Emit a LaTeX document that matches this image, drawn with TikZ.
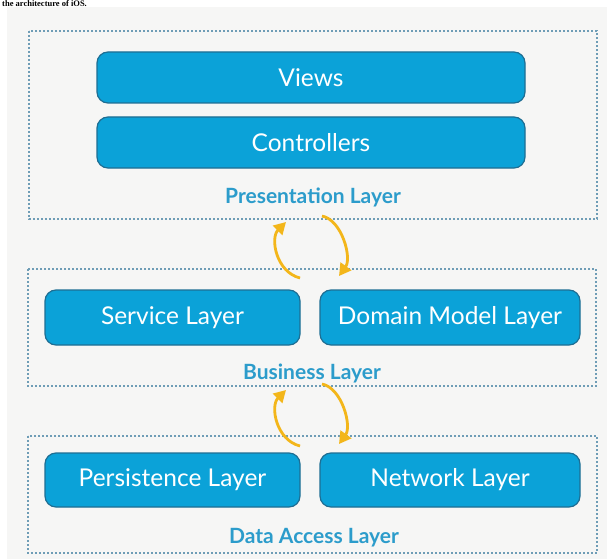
\documentclass[tikz,border=0pt]{standalone}
\usepackage{fontspec}
\setmainfont{Lato}
\newfontfamily\captionfont{Liberation Serif}
\usepackage{xcolor}
\usepackage{tikz}
\usetikzlibrary{arrows.meta,positioning,calc}

\definecolor{boxblue}{HTML}{0BA2D8}
\definecolor{boxedge}{HTML}{1E6E93}
\definecolor{labelblue}{HTML}{2C9CCB}
\definecolor{frameblue}{HTML}{6F9DB6}
\definecolor{cycyellow}{HTML}{F3B61A}
\definecolor{pagegray}{HTML}{F6F6F5}

\begin{document}
\begin{tikzpicture}[x=1pt, y=-1pt,
    part/.style={draw=boxedge, line width=1.2pt, fill=boxblue, rounded corners=11pt,
        text=white, font=\fontsize{24.5}{27}\selectfont, inner sep=0pt},
    tier/.style={draw=frameblue, line width=1.1pt, dash pattern=on 1.6pt off 2.4pt},
    tiername/.style={text=labelblue, font=\fontsize{21}{24}\selectfont\bfseries},
    cyc/.style={draw=cycyellow, line width=2.8pt, -{Triangle[length=12pt,width=13pt]}}]
    % page
    \useasboundingbox (0,0) rectangle (607,559);
    \fill[white] (0,0) rectangle (607,559);
    \fill[pagegray] (7,7) rectangle (607,559);
    \node[anchor=base west, inner sep=0pt, font=\fontsize{8.5}{9}\selectfont\captionfont\bfseries] (caption) at (2,6.3) {the architecture of iOS.};

    % Presentation layer
    \draw[tier] (29,31) rectangle (597,219);
    \node[part, minimum width=428pt, minimum height=51pt] (views) at (311,77.5) {Views};
    \node[part, minimum width=428pt, minimum height=51pt] (ctrl) at (311,142.5) {Controllers};
    \node[tiername] (presname) at (313,197) {Presentation Layer};

    % Business layer
    \draw[tier] (28,269) rectangle (596,386);
    \node[part, minimum width=255pt, minimum height=55pt] (service) at (172.5,317.5) {Service Layer};
    \node[part, minimum width=260pt, minimum height=55pt] (domain) at (450,317.5) {Domain Model Layer};
    \node[tiername] (busname) at (312,373) {Business Layer};

    % Data access layer
    \draw[tier] (28,436) rectangle (597,553);
    \node[part, minimum width=255pt, minimum height=54pt] (persist) at (172.5,480) {Persistence Layer};
    \node[part, minimum width=260pt, minimum height=54pt] (network) at (450,480) {Network Layer};
    \node[tiername] (dataname) at (314,538) {Data Access Layer};

    % round trips between layers
    \foreach \s/\n in {0/a, 168/b} {
        \coordinate (up\n-from) at (300,278+\s);
        \coordinate (up\n-to) at (286,222+\s);
        \coordinate (dn\n-from) at (322,216+\s);
        \coordinate (dn\n-to) at (339,276+\s);
        \draw[cyc] (up\n-from) .. controls (276,272+\s) and (270,238+\s) .. (up\n-to);
        \draw[cyc] (dn\n-from) .. controls (342,220+\s) and (352,258+\s) .. (dn\n-to);
    }
\end{tikzpicture}
\end{document}
